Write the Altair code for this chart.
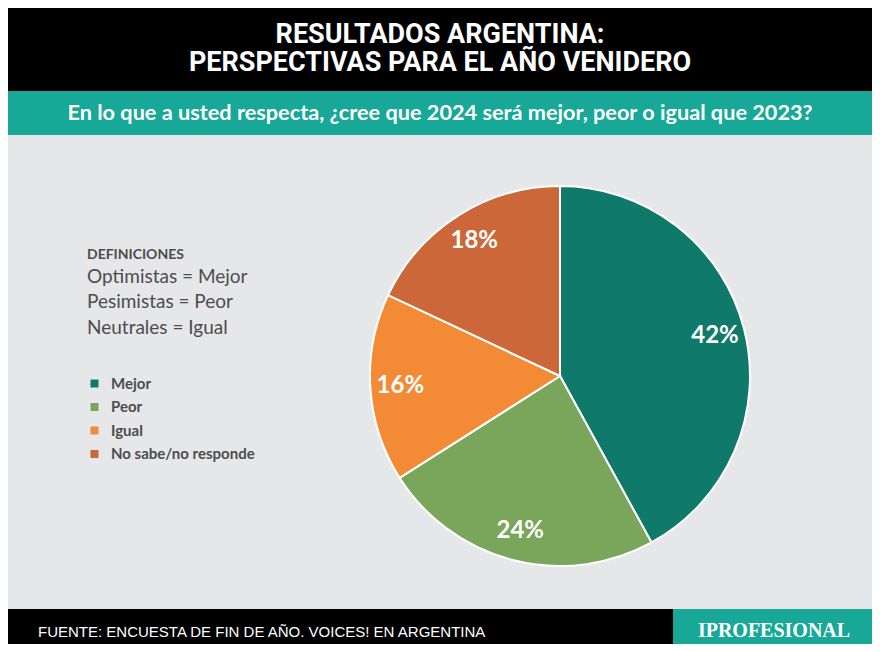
import altair as alt
import pandas as pd

# ---- data ----
categories = ["Mejor", "Peor", "Igual", "No sabe/no responde"]
values = [42, 24, 16, 18]
labels = ["42%", "24%", "16%", "18%"]
colors = ["#0f7a6a", "#7aa65c", "#f38a35", "#cb6738"]

title_lines = ["RESULTADOS ARGENTINA:", "PERSPECTIVAS PARA EL AÑO VENIDERO"]
subtitle = "En lo que a usted respecta, ¿cree que 2024 será mejor, peor o igual que 2023?"
defs_title = "DEFINICIONES"
defs_lines = ["Optimistas = Mejor", "Pesimistas = Peor", "Neutrales = Igual"]
source = "FUENTE: ENCUESTA DE FIN DE AÑO. VOICES! EN ARGENTINA"
brand = "IPROFESIONAL"

df = pd.DataFrame({"cat": categories, "val": values, "lab": labels,
                   "idx": list(range(len(categories)))})

W, H = 864, 636
BG = "#e6e7e9"
TEAL = "#18a897"
one = alt.Data(values=[{}])

def rect(x, x2, y, y2, color):
    return alt.Chart(one).mark_rect(color=color).encode(
        x=alt.value(x), x2=alt.value(x2), y=alt.value(y), y2=alt.value(y2))

def txt(s, x, y, size, color="white", weight="normal", font="Lato", align="left",
        baseline="middle", **kw):
    return alt.Chart(one).mark_text(
        text=s, fontSize=size, color=color, fontWeight=weight, font=font,
        align=align, baseline=baseline, **kw).encode(x=alt.value(x), y=alt.value(y))

header = rect(0, W, 0, 83, "#000000")
band = rect(0, W, 83, 127, TEAL)
footer = rect(0, W, 601, H, "#000000")
logo_box = rect(665, W, 601, H, TEAL)

title = txt(title_lines, 432, 27, 27, weight="bold", font="Roboto", align="center",
            lineHeight=28)
sub = txt(subtitle, 432, 105, 21.7, weight="bold", font="Lato", align="center")

d0 = txt(defs_title, 79, 247, 14, color="#4d4d4d", weight="bold", font="Lato")
d1 = txt(defs_lines[0], 79, 269, 19, color="#4d4d4d", font="Lato")
d2 = txt(defs_lines[1], 79, 294, 19, color="#4d4d4d", font="Lato")
d3 = txt(defs_lines[2], 79, 320, 19, color="#4d4d4d", font="Lato")

src = txt(source, 30, 624, 15, font="Liberation Sans Narrow, Arial Narrow, sans-serif")
brand_t = txt(brand, 766, 623, 20, weight="bold", font="Liberation Serif, serif", align="center")

color = alt.Color("cat:N", scale=alt.Scale(domain=categories, range=colors),
                  legend=alt.Legend(orient="none", legendX=79, legendY=368, title=None,
                                    symbolType="square", symbolSize=64,
                                    labelFontSize=15, labelFontWeight="bold",
                                    labelColor="#4d4d4d", labelFont="Lato",
                                    labelOffset=9, rowPadding=7.5, padding=0,
                                    symbolStrokeWidth=0))

base = alt.Chart(df).encode(
    theta=alt.Theta("val:Q", stack=True),
    order=alt.Order("idx:Q"),
)
pie = base.mark_arc(outerRadius=190, stroke="white", strokeWidth=2).encode(
    color=color, x=alt.value(552), y=alt.value(368))
pie_lab = base.mark_text(radius=160, fontSize=24, fontWeight="bold", color="white",
                         font="Lato").encode(text="lab:N", x=alt.value(552), y=alt.value(368))

chart = alt.layer(header, band, footer, logo_box, title, sub, d0, d1, d2, d3,
                  src, brand_t, pie, pie_lab).properties(
    width=W, height=H, padding=0, autosize=alt.AutoSizeParams(type="none"),
    background=BG
).configure_view(stroke=None)

chart.save("out.html", embed_options={"renderer": "svg", "actions": False})
